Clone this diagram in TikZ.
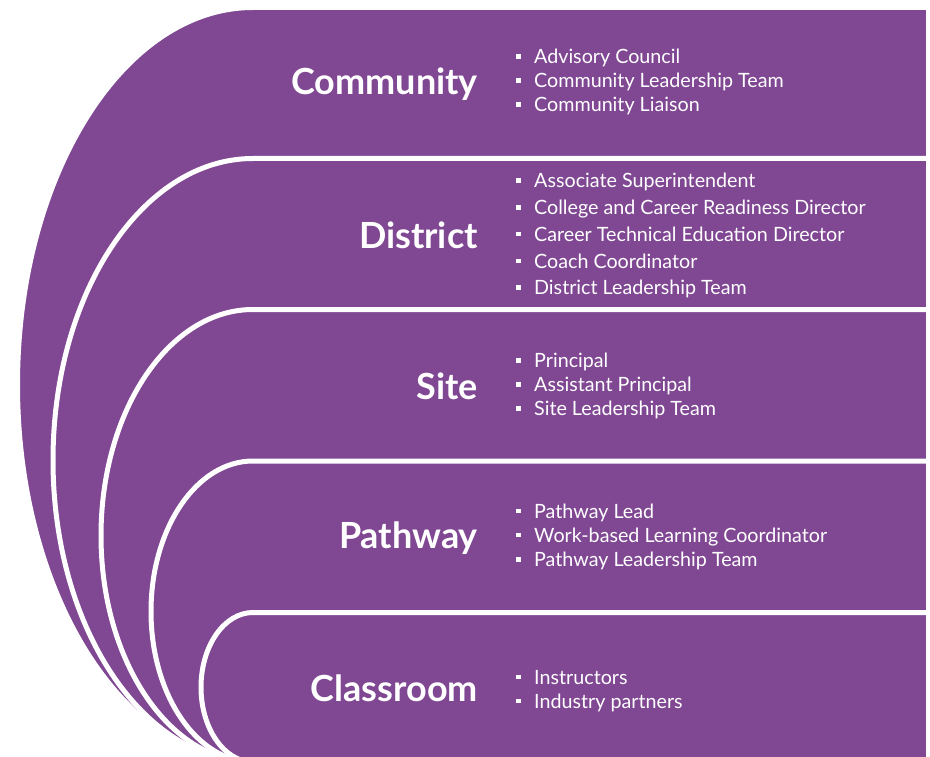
\documentclass[tikz,border=0pt]{standalone}
\usepackage{fontspec}
\setmainfont{Lato}
\definecolor{tierpurple}{RGB}{128,71,147}

\tikzset{
  tier/.style={fill=tierpurple, draw=white, line width=5pt, line join=round},
  tiername/.style={anchor=base east, text=white, inner sep=0pt,
    font=\fontsize{36}{40}\selectfont\bfseries},
  tieritem/.style={anchor=base west, text=white, inner sep=0pt,
    font=\fontsize{19.7}{24}\selectfont},
}
% square bullet followed by the item text
\newcommand\sqitem[1]{\makebox[18pt][l]{\rule[5pt]{4.5pt}{4.5pt}}#1}
% one tier: top edge #1, leftmost point #2 (ellipse ends at the bottom)
\newcommand\tiershape[2]{%
  \path[tier] (928.5,#1) -- (253,#1)
    arc[start angle=-90, end angle=-270, x radius={253-#2}, y radius={(762-#1)/2}]
    -- (928.5,762) -- cycle;}

\begin{document}
\begin{tikzpicture}[x=1pt,y=-1pt]
  \clip (0,0) rectangle (930,757);
  \fill[white] (0,0) rectangle (930,757);

  % nested tiers, outermost first
  \tiershape{7.5}{17.5}
  \tiershape{158.5}{53}
  \tiershape{309.5}{101}
  \tiershape{461}{151}
  \tiershape{612.5}{201}

  % tier names
  \node[tiername] (community) at (478,95)    {Community};
  \node[tiername] (district)  at (478,248.5) {District};
  \node[tiername] (site)      at (478,399.5) {Site};
  \node[tiername] (pathway)   at (478,548.5) {Pathway};
  \node[tiername] (classroom) at (478,701)   {Classroom};

  % members of each tier
  \foreach \txt [count=\i] in {Advisory Council, Community Leadership Team, Community Liaison}
    \node[tieritem] (comm-\i) at (516,{64+24*(\i-1)}) {\sqitem{\txt}};
  \foreach \txt [count=\i] in {Associate Superintendent, College and Career Readiness Director,
      Career Technical Education Director, Coach Coordinator, District Leadership Team}
    \node[tieritem] (dist-\i) at (516,{188+26.7*(\i-1)}) {\sqitem{\txt}};
  \foreach \txt [count=\i] in {Principal, Assistant Principal, Site Leadership Team}
    \node[tieritem] (site-\i) at (516,{367.5+24*(\i-1)}) {\sqitem{\txt}};
  \foreach \txt [count=\i] in {Pathway Lead, Work-based Learning Coordinator, Pathway Leadership Team}
    \node[tieritem] (path-\i) at (516,{518+24.3*(\i-1)}) {\sqitem{\txt}};
  \foreach \txt [count=\i] in {Instructors, Industry partners}
    \node[tieritem] (class-\i) at (516,{684+24.3*(\i-1)}) {\sqitem{\txt}};
\end{tikzpicture}
\end{document}
